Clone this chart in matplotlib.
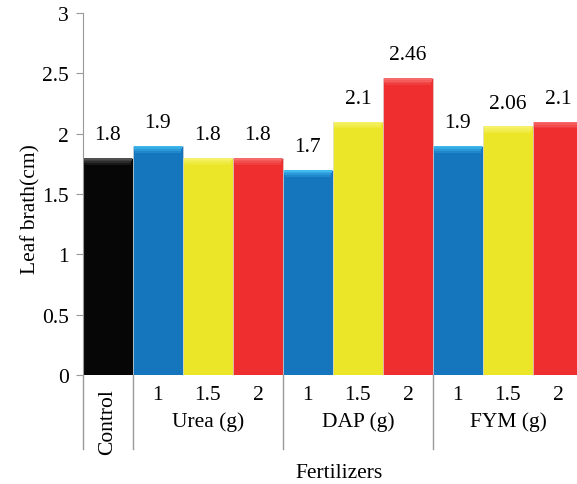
import numpy as np
import matplotlib.pyplot as plt
from matplotlib.colors import to_rgb

# data
groups = ['Control', 'Urea (g)', 'DAP (g)', 'FYM (g)']
doses = ['', '1', '1.5', '2', '1', '1.5', '2', '1', '1.5', '2']
values = [1.8, 1.9, 1.8, 1.8, 1.7, 2.1, 2.46, 1.9, 2.06, 2.1]
value_labels = ['1.8', '1.9', '1.8', '1.8', '1.7', '2.1', '2.46', '1.9', '2.06', '2.1']

colors = ['#060606', '#1576be', '#ebe628', '#ee2e2f',
          '#1576be', '#ebe628', '#ee2e2f',
          '#1576be', '#ebe628', '#ee2e2f']
tops = ['#505050', '#40bbf0', '#f5f26a', '#f76a6a',
        '#40bbf0', '#f5f26a', '#f76a6a',
        '#40bbf0', '#f5f26a', '#f76a6a']

plt.rcParams['font.family'] = ['Liberation Serif', 'DejaVu Serif']
FS = 15.5

fig = plt.figure(figsize=(5.77, 4.85), dpi=100)
ax = fig.add_axes([0.1438, 0.2247, 0.8665, 0.7464])

x = np.arange(len(values))
ax.bar(x, values, width=1.0, color=colors, edgecolor='#d8d8d8', linewidth=0.4, zorder=2)

# soft bevel at the top of every bar (a few strips fading into the bar colour)
n = 5
step = 0.014
for k in range(n):
    t = k / (n - 1)
    cols = [tuple((1 - t) * np.array(to_rgb(a)) + t * np.array(to_rgb(b)))
            for a, b in zip(tops, colors)]
    w = 0.97 - 0.015 * k
    ax.bar(x, [step] * len(values), bottom=[v - step * (k + 1) for v in values],
           width=w, color=cols, linewidth=0, zorder=3)

for xi, v, lab in zip(x, values, value_labels):
    ax.annotate(lab, (xi, v), xytext=(0, 10), textcoords='offset points',
                ha='center', va='bottom', fontsize=FS)

ax.set_xlim(-0.5, 9.5)
ax.set_ylim(0, 3)
ax.set_yticks(np.arange(0, 3.01, 0.5))
ax.set_yticklabels(['0', '0.5', '1', '1.5', '2', '2.5', '3'])
ax.tick_params(axis='y', labelsize=FS, length=5, color='#999999', pad=5)
ax.set_xticks([])

for s in ['top', 'right', 'bottom']:
    ax.spines[s].set_visible(False)
ax.spines['left'].set_color('#999999')
ax.axhline(0, color='#999999', lw=1, zorder=1)

ax.set_ylabel('Leaf brath(cm)', fontsize=FS)
ax.yaxis.set_label_coords(-0.085, 0.46)

# multi level category axis
tr = ax.get_xaxis_transform()
for sx in [-0.5, 0.5, 3.5, 6.5, 9.5]:
    ax.plot([sx, sx], [0, -0.205], color='#999999', lw=1, transform=tr, clip_on=False)

for xi, d in zip(x, doses):
    if d:
        ax.text(xi, -0.055, d, transform=tr, ha='center', va='center', fontsize=FS)

ax.text(0, -0.035, groups[0], transform=tr, rotation=90, ha='center', va='top', fontsize=FS)
for gi, g in enumerate(groups[1:]):
    ax.text(2 + 3 * gi, -0.127, g, transform=tr, ha='center', va='center', fontsize=FS)

ax.text(4.63, -0.268, 'Fertilizers', transform=tr, ha='center', va='center', fontsize=FS)

fig.savefig('out.png', dpi=100)
